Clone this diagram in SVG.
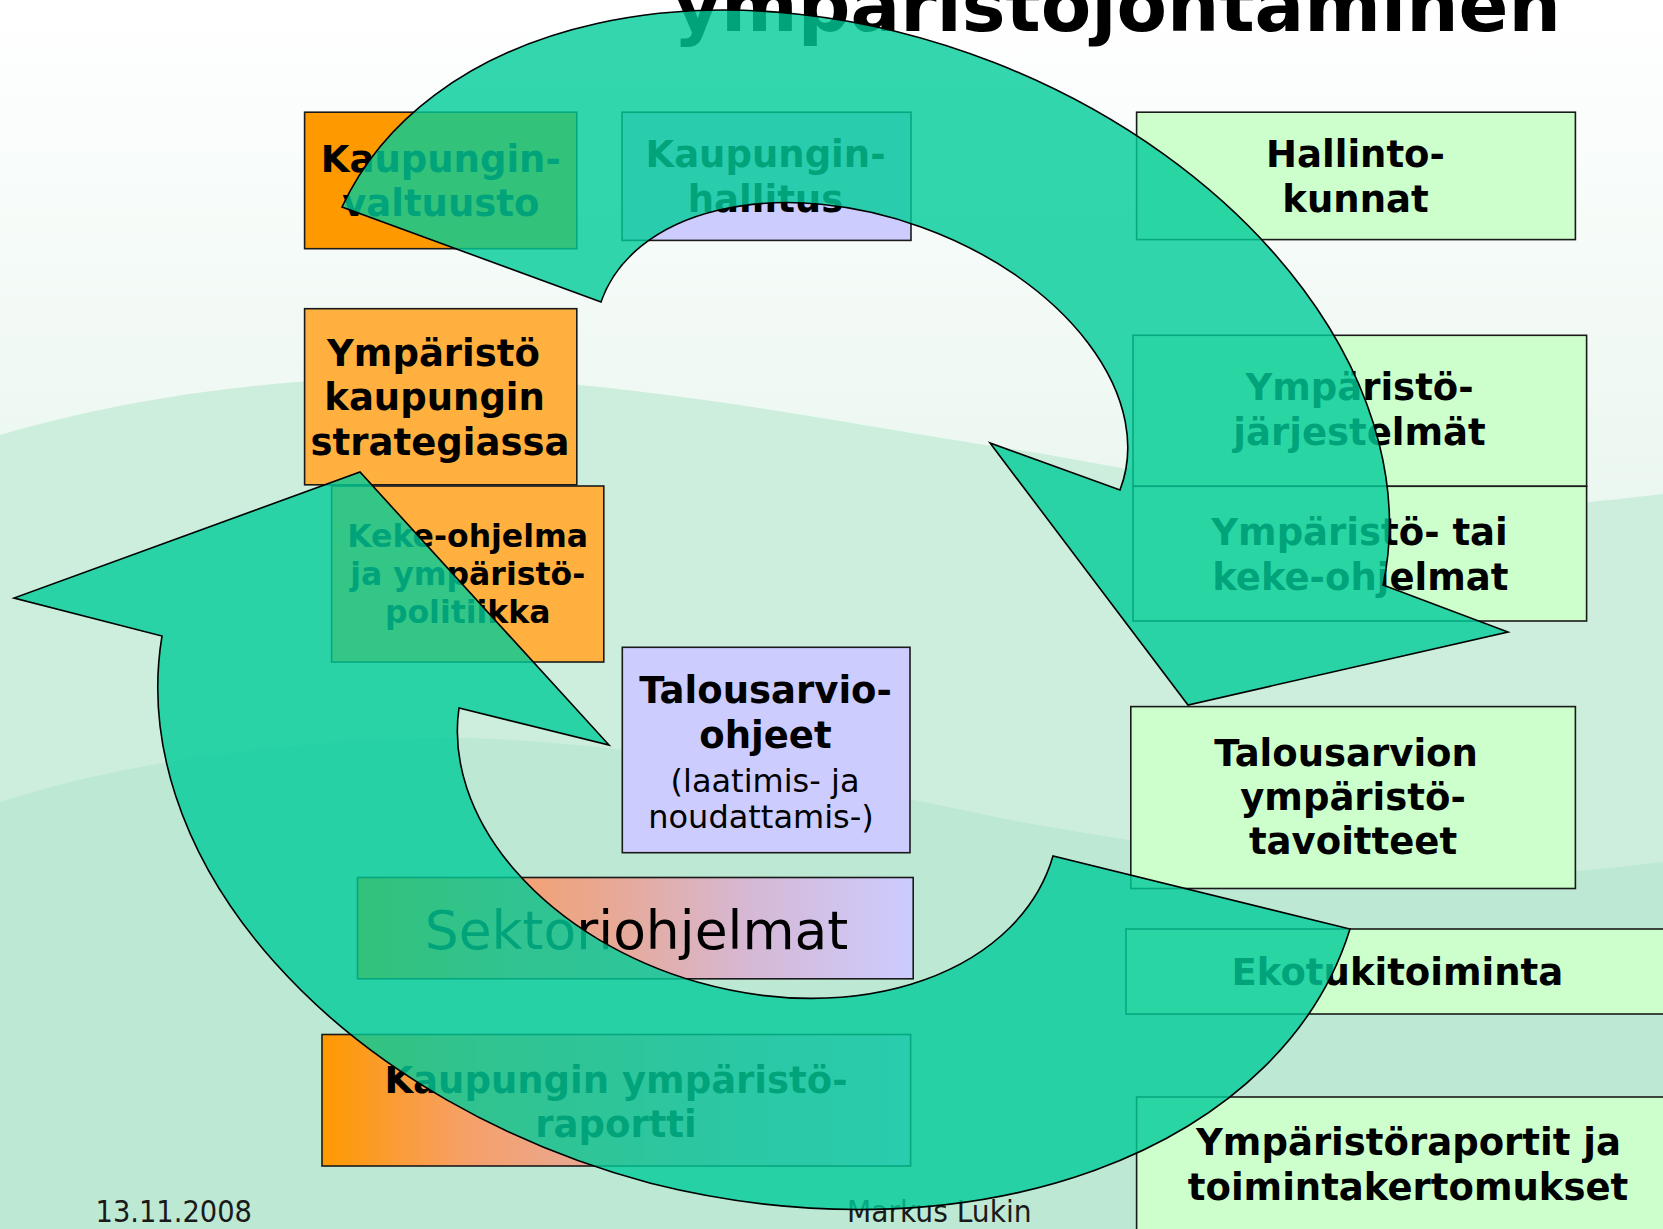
<svg xmlns="http://www.w3.org/2000/svg" width="1663" height="1229" viewBox="0 0 1663 1229">
<defs>
<linearGradient id="bgTop" x1="0" y1="0" x2="0" y2="1">
<stop offset="0" stop-color="#ffffff"/>
<stop offset="0.45" stop-color="#e9f6ef"/>
<stop offset="1" stop-color="#d6f0e2"/>
</linearGradient>
<linearGradient id="orangeLav" x1="0" y1="0" x2="1" y2="0">
<stop offset="0" stop-color="#ff9900"/>
<stop offset="0.25" stop-color="#f6a06a"/>
<stop offset="0.45" stop-color="#e8a893"/>
<stop offset="0.7" stop-color="#d6b8d4"/>
<stop offset="1" stop-color="#ccccff"/>
</linearGradient>
<style>
.box{stroke:#1a1a1a;stroke-width:1.6}
.or{fill:#ff9900}
.or2{fill:#ffb03f}
.lav{fill:#ccccff}
.grn{fill:#ccffcc}
.grad{fill:url(#orangeLav)}
.b{font-family:'DejaVu Sans',Verdana,sans-serif;font-weight:bold;font-size:37px;text-anchor:middle;fill:#000}
.bs{font-size:31.5px}
.r{font-family:'DejaVu Sans',Verdana,sans-serif;font-size:32px;text-anchor:middle;fill:#000}
.foot{font-family:'DejaVu Sans Condensed','DejaVu Sans',sans-serif;font-size:31px;fill:#1a1a1a}
.arrow{fill:#00cc99;fill-opacity:0.8;stroke:#000;stroke-width:1.6;stroke-linejoin:miter}
</style>
</defs>

<g id="background">
<rect x="0" y="0" width="1663" height="1229" fill="url(#bgTop)"/>
<path d="M0,435 C120,400 260,378 420,377 C620,376 850,425 1000,447 C1150,470 1300,508 1450,508 C1550,508 1610,500 1663,494 L1663,1229 L0,1229 Z" fill="#cdeedd"/>
<path d="M0,802 C100,770 230,745 420,738 C600,735 800,775 1000,818 C1200,855 1400,878 1520,874 C1580,872 1630,866 1663,862 L1663,1229 L0,1229 Z" fill="#bde9d4"/>
</g>

<g id="title">
<text x="1117" y="31" style="font-family:'DejaVu Sans',Verdana,sans-serif;font-weight:bold;font-size:73.6px;text-anchor:middle;fill:#000">ympäristöjohtaminen</text>
</g>

<g id="node-kaupunginvaltuusto">
<rect class="box or" x="304.6" y="112.2" width="272.2" height="136.5"/>
<text class="b" x="440.8" y="172">Kaupungin-</text>
<text class="b" x="440.8" y="216">valtuusto</text>
</g>

<g id="node-kaupunginhallitus">
<rect class="box lav" x="622" y="112.2" width="289" height="128.2"/>
<text class="b" x="765.5" y="167">Kaupungin-</text>
<text class="b" x="765.5" y="211.5">hallitus</text>
</g>

<g id="node-hallintokunnat">
<rect class="box grn" x="1136.6" y="112.2" width="438.8" height="127.4"/>
<text class="b" x="1355.5" y="166.7">Hallinto-</text>
<text class="b" x="1355.5" y="211.8">kunnat</text>
</g>

<g id="node-strategia">
<rect class="box or2" x="304.6" y="308.7" width="272.2" height="176.1"/>
<text class="b" x="433.5" y="365.5">Ympäristö</text>
<text class="b" x="434.6" y="409.8">kaupungin</text>
<text class="b" x="440" y="455">strategiassa</text>
</g>

<g id="node-keke">
<rect class="box or2" x="331.6" y="486" width="272.2" height="176"/>
<text class="b bs" x="467.7" y="547.3">Keke-ohjelma</text>
<text class="b bs" x="467.7" y="585">ja ympäristö-</text>
<text class="b bs" x="467.7" y="623.3">politiikka</text>
</g>

<g id="node-jarjestelmat">
<rect class="box grn" x="1133" y="335.3" width="453.6" height="151"/>
<text class="b" x="1359.5" y="400">Ympäristö-</text>
<text class="b" x="1359.5" y="445">järjestelmät</text>
</g>

<g id="node-ohjelmat">
<rect class="box grn" x="1133" y="486.3" width="453.6" height="134.7"/>
<text class="b" x="1359.5" y="545">Ympäristö- tai</text>
<text class="b" x="1360.3" y="590">keke-ohjelmat</text>
</g>

<g id="node-talousarvioohjeet">
<rect class="box lav" x="622.3" y="647.3" width="287.7" height="205.4"/>
<text class="b" x="765.5" y="703.3">Talousarvio-</text>
<text class="b" x="765.5" y="748.3">ohjeet</text>
<text class="r" x="765" y="791.7">(laatimis- ja</text>
<text class="r" x="761" y="828.3">noudattamis-)</text>
</g>

<g id="node-tavoitteet">
<rect class="box grn" x="1130.8" y="706.6" width="444.6" height="181.9"/>
<text class="b" x="1346" y="766">Talousarvion</text>
<text class="b" x="1353" y="810">ympäristö-</text>
<text class="b" x="1353" y="854">tavoitteet</text>
</g>

<g id="node-sektoriohjelmat">
<rect class="box grad" x="357.5" y="877.5" width="555.7" height="101.3"/>
<text x="636.5" y="949.3" style="font-family:'DejaVu Sans',Verdana,sans-serif;font-size:53.5px;text-anchor:middle;fill:#000">Sektoriohjelmat</text>
</g>

<g id="node-ekotuki">
<rect class="box grn" x="1126" y="929" width="580" height="85"/>
<text class="b" x="1397.4" y="984.6">Ekotukitoiminta</text>
</g>

<g id="node-raportti">
<rect class="box grad" x="322" y="1034.5" width="588.6" height="131.5"/>
<text class="b" x="616" y="1093.3">Kaupungin ympäristö-</text>
<text class="b" x="616" y="1137.3">raportti</text>
</g>

<g id="node-raportit">
<rect class="box grn" x="1136.6" y="1097" width="580" height="180"/>
<text class="b" x="1408.5" y="1155">Ympäristöraportit ja</text>
<text class="b" x="1408" y="1200.3">toimintakertomukset</text>
</g>

<g id="footer">
<text class="foot" x="95.5" y="1222" textLength="156.5" lengthAdjust="spacingAndGlyphs">13.11.2008</text>
<text class="foot" x="847" y="1222" textLength="184.6" lengthAdjust="spacingAndGlyphs">Markus Lukin</text>
</g>

<g id="connectors">
<path id="arrow-top" class="arrow" d="M342,207 A555.6,388.7 21.3 0 1 994.1,62.5 A555.6,388.7 21.3 0 1 1383,585 L1508,632 L1188,705 L990,443 L1120,490 A275.6,177.6 19.8 0 0 920.95,226.9 A275.6,177.6 19.8 0 0 601,302 Z"/>
<path id="arrow-bottom" class="arrow" d="M1350,929 A618.6,435.4 14.4 0 1 650.5,1183.3 A618.6,435.4 14.4 0 1 162,636 L14,598 L360,472 L609,745 L459,708 A306.6,219.4 15.9 0 0 698.2,982.3 A306.6,219.4 15.9 0 0 1053,856 Z"/>
</g>
</svg>
